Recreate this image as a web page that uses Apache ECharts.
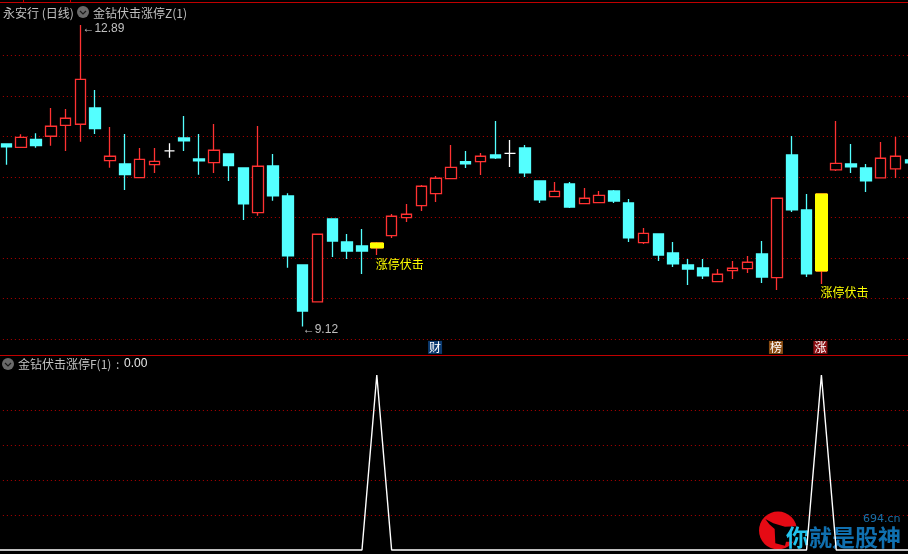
<!DOCTYPE html>
<html><head><meta charset="utf-8">
<style>html,body{margin:0;padding:0;background:#000}#c{width:908px;height:554px}</style>
<script src="https://cdn.jsdelivr.net/npm/echarts@6/dist/echarts.min.js"></script>
</head><body><div id="c"></div>
<script>
const opens  = [11.403,11.359,11.461,11.499,11.636,11.649,11.853,11.194,11.153,10.981,11.144,11.315,11.478,11.215,11.169,11.278,11.103,10.544,11.128,10.753,9.89,9.428,10.465,10.178,10.128,10.103,10.256,10.481,10.631,10.781,10.969,11.181,11.181,11.265,11.286,11.353,10.94,10.744,10.903,10.656,10.669,10.815,10.665,10.169,10.278,10.04,9.89,9.853,9.681,9.819,9.844,10.028,9.731,11.265,10.578,9.815,11.078,11.153,11.103,10.978,11.09,11.203];
const closes = [11.365,11.484,11.381,11.624,11.724,12.211,11.594,11.249,11.019,11.211,11.186,11.315,11.44,11.19,11.324,11.131,10.653,11.124,10.753,10.003,9.315,10.274,10.19,10.065,10.065,10.165,10.499,10.524,10.874,10.974,11.111,11.153,11.249,11.228,11.286,11.04,10.703,10.811,10.615,10.724,10.761,10.69,10.228,10.286,10.015,9.903,9.84,9.753,9.774,9.849,9.924,9.74,10.724,10.578,9.778,10.778,11.161,11.115,10.94,11.224,11.249,11.165];
const lows   = [11.144,11.359,11.356,11.381,11.315,11.431,11.528,11.106,10.828,10.981,11.04,11.231,11.315,11.019,11.04,10.94,10.453,10.506,10.694,9.856,9.12,9.428,9.99,9.965,9.778,10.015,10.228,10.428,10.565,10.678,10.969,11.103,11.015,11.215,11.115,10.99,10.665,10.744,10.603,10.656,10.669,10.665,10.178,10.153,9.94,9.865,9.64,9.715,9.681,9.715,9.79,9.665,9.578,10.553,9.74,9.653,11.065,11.04,10.803,10.978,10.978,11.165];
const highs  = [11.411,11.524,11.536,11.853,11.84,12.89,12.078,11.615,11.528,11.353,11.353,11.411,11.753,11.528,11.653,11.278,11.103,11.628,11.278,10.786,9.89,10.274,10.465,10.278,10.34,10.178,10.528,10.653,10.89,11.003,11.39,11.315,11.29,11.69,11.453,11.39,10.94,10.928,10.928,10.853,10.815,10.828,10.715,10.353,10.278,10.178,9.965,9.965,9.84,9.94,10.003,10.19,10.724,11.503,10.778,10.778,11.69,11.403,11.153,11.428,11.49,11.203];
const limitUpIndex = [25, 55];
const limitUpLabel = '涨停伏击';
const dojiIndex = [11, 34];
const signalIndex = [25, 55];
const extremes = [{i:5, price:12.89, text:'12.89'}, {i:20, price:9.12, text:'9.12'}];
const badges = [{i:29, text:'财', color:'#0b3a70'}, {i:52, text:'榜', color:'#8a4c12'}, {i:55, text:'涨', color:'#8a0f14'}];
const badgePrice = 8.86;

const categories = opens.map((_, i) => 'D' + (i + 1));
const signal = categories.map((_, i) => signalIndex.includes(i) ? 1 : 0);

const RED = '#ff3232', CYAN = '#54ffff', YEL = '#ffff00', GRID = '#b00000';
const candleData = categories.map((_, i) => {
  const value = [opens[i], closes[i], lows[i], highs[i]];
  if (dojiIndex.includes(i)) {
    return {value, itemStyle:{color:'#fff',color0:'#fff',borderColor:'#fff',borderColor0:'#fff',borderColorDoji:'#fff'}};
  }
  return {value};
});
const yellowData = categories.map((_, i) => limitUpIndex.includes(i)
  ? [opens[i], closes[i], opens[i], closes[i]] : ['-','-','-','-']);
const linePairs = [[-0.5, 0]].concat(signal.map((v, i) => [i, v]), [[61.5, 0]]);

const dotted = {show:true, lineStyle:{color:GRID, width:1, type:[1,3]}};
const textBase = {fontFamily:'"Noto Sans CJK SC"', fontSize:12, fill:'#c0c0c0'};
function chevron(cx, cy){
  return [
    {type:'circle', shape:{cx, cy, r:6}, style:{fill:'#6a6a6a'}, z:5},
    {type:'polyline', shape:{points:[[cx-3,cy-1],[cx,cy+2],[cx+3,cy-1]]}, style:{stroke:'#1a1a1a', fill:null, lineWidth:1.2}, z:6}
  ];
}
const wm = (x, y) => [x / 3 + 750, y / 3 + 505];

const option = {
  backgroundColor:'#000',
  animation:false,
  grid:[
    {left:-1.11, top:14.73, width:918.84, height:365.13, outerBoundsMode:'none'},
    {left:-1.11, top:375, width:918.84, height:175, outerBoundsMode:'none'}
  ],
  xAxis:[
    {type:'category', gridIndex:0, data:categories, boundaryGap:true, show:false},
    {type:'value', gridIndex:1, min:-0.5, max:61.5, show:false, splitLine:{show:false}}
  ],
  yAxis:[
    {type:'value', gridIndex:0, min:8.454, max:13.018, show:false, splitLine:{show:false}},
    {type:'value', gridIndex:0, min:0, max:9, interval:1, position:'right',
     axisLine:{show:false}, axisTick:{show:false}, axisLabel:{show:false},
     splitLine:Object.assign({showMinLine:false, showMaxLine:false}, dotted)},
    {type:'value', gridIndex:1, min:0, max:1, interval:0.2,
     axisLine:{show:false}, axisTick:{show:false}, axisLabel:{show:false},
     splitLine:Object.assign({showMinLine:false, showMaxLine:false}, dotted)}
  ],
  series:[
    {type:'candlestick', name:'K', xAxisIndex:0, yAxisIndex:0, barWidth:11, z:3,
     data:candleData,
     itemStyle:{color:'#000', color0:CYAN, borderColor:RED, borderColor0:CYAN, borderWidth:1.3},
     markPoint:{symbol:'circle', symbolSize:0, silent:true, animation:false,
       data:extremes.map(e => ({coord:[categories[e.i], e.price], value:e.price,
         label:{show:true, position:'right', distance:0, offset:[e.i === 5 ? 2 : 0, e.i === 5 ? 4 : 3], formatter:'←' + e.text,
                color:'#c0c0c0', fontFamily:'"Liberation Sans"', fontSize:12}}))
        .concat(badges.map(b => ({coord:[categories[b.i], badgePrice], value:b.text,
         label:{show:true, position:'inside', formatter:b.text, color:'#fff', backgroundColor:b.color,
                padding:[1,1,0,1], offset:[-1,0], fontFamily:'"Noto Sans CJK SC"', fontSize:12, lineHeight:12}})))
     }},
    {type:'candlestick', name:'涨停伏击', xAxisIndex:0, yAxisIndex:0, barWidth:13, z:4,
     data:yellowData,
     itemStyle:{color:YEL, color0:YEL, borderColor:YEL, borderColor0:YEL, borderWidth:1},
     markPoint:{symbol:'circle', symbolSize:0, silent:true, animation:false,
       data:limitUpIndex.map(i => ({coord:[categories[i], lows[i]], value:limitUpLabel,
         label:{show:true, position:'right', distance:0, offset:[-1, 9], formatter:limitUpLabel,
                color:YEL, fontFamily:'"Noto Sans CJK SC"', fontSize:12}}))
     }},
    {type:'line', name:'金钻伏击涨停F', xAxisIndex:1, yAxisIndex:2, data:linePairs, z:3, clip:false,
     showSymbol:false, symbol:'none', lineStyle:{color:'#fff', width:1.4}}
  ],
  graphic:[
    {type:'rect', shape:{x:0,y:2,width:908,height:1}, style:{fill:'#c00000'}, z:5},
    {type:'rect', shape:{x:70,y:0,width:1,height:2}, style:{fill:'#c00000'}, z:5},
    {type:'rect', shape:{x:23,y:0,width:1,height:2}, style:{fill:'#c00000'}, z:5},
    {type:'rect', shape:{x:0,y:355,width:908,height:1}, style:{fill:'#c00000'}, z:5},
    {type:'text', x:3, y:13, style:Object.assign({text:'永安行 (日线)', verticalAlign:'middle'}, textBase), z:6},
    ...chevron(83, 12),
    {type:'text', x:93, y:13, style:Object.assign({text:'金钻伏击涨停Z(1)', verticalAlign:'middle'}, textBase), z:6},
    ...chevron(8, 364),
    {type:'text', x:18, y:364, style:Object.assign({text:'金钻伏击涨停F(1)', verticalAlign:'middle'}, textBase), z:6},
    {type:'text', x:116, y:364, style:Object.assign({}, textBase, {text:':', verticalAlign:'middle'}), z:6},
    {type:'text', x:124, y:364, style:{text:'0.00', verticalAlign:'middle', fontFamily:'"Liberation Sans"', fontSize:12, fill:'#e8e8e8'}, z:6},
    {type:'circle', shape:{cx:778, cy:530.5, r:19}, style:{fill:'#e60a14'}, z:1},
    {type:'polygon', shape:{points:[wm(46,42),wm(58,58),wm(74,72),wm(76,115),wm(105,122),wm(108,110),wm(170,110),wm(170,62),wm(105,65),wm(70,55)]}, style:{fill:'#000'}, z:1},
    {type:'text', x:786, y:537, style:{text:'你', verticalAlign:'middle', fontFamily:'"Noto Sans CJK SC"', fontWeight:'bold', fontSize:23, fill:'#22c4ee'}, z:1},
    {type:'text', x:809, y:537, style:{text:'就是股神', verticalAlign:'middle', fontFamily:'"Noto Sans CJK SC"', fontWeight:'bold', fontSize:23, fill:'#1070b0'}, z:1},
    {type:'text', x:863, y:519, style:{text:'694.cn', verticalAlign:'middle', fontFamily:'"DejaVu Sans"', fontSize:11, fill:'#1a6fa8'}, z:1}
  ]
};
const chart = echarts.init(document.getElementById('c'), null, {renderer:'canvas', width:908, height:554});
chart.setOption(option);
</script></body></html>
